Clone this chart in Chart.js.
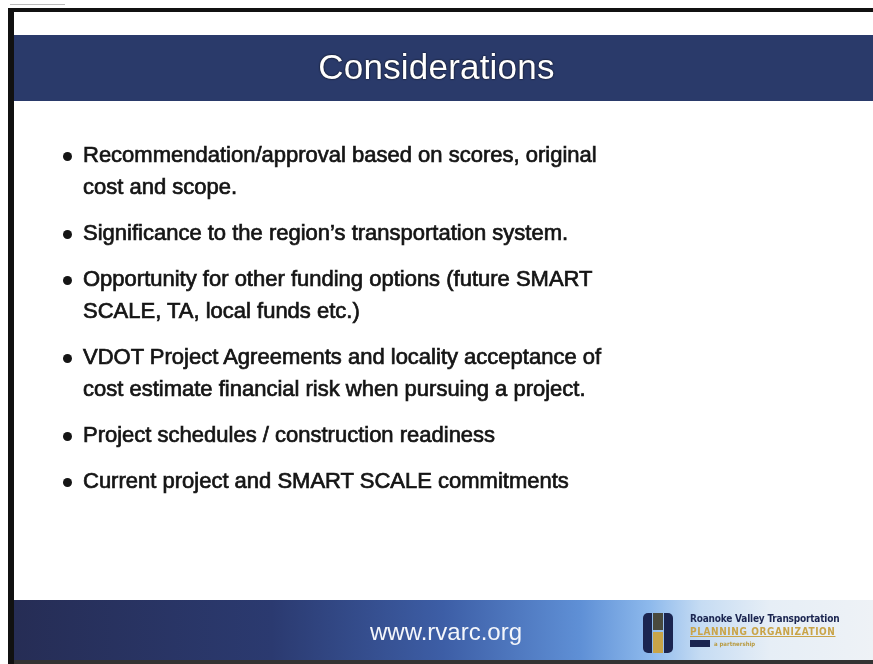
<!DOCTYPE html>
<html>
<head>
<meta charset="utf-8">
<script src="https://cdn.jsdelivr.net/npm/chart.js@4.4.1/dist/chart.umd.min.js"></script>
<style>
  html, body { margin: 0; padding: 0; background: #fff; }
  #wrap { position: relative; width: 873px; height: 664px; overflow: hidden; }
  #slide { position: absolute; left: 0; top: 0; }
  .title {
    position: absolute; left: 0; right: 0; top: 45px; text-align: center;
    font-family: "Liberation Sans", Arial, sans-serif; font-size: 35px; color: #fff;
    text-shadow: 0 0 2px #000; line-height: 44px; letter-spacing: 0.2px;
  }
  ul.bullets {
    position: absolute; left: 0; top: 139px; margin: 0; padding: 0; list-style: none;
    font-family: "Liberation Sans", Arial, sans-serif; font-size: 22px; line-height: 32px;
    color: #151515; -webkit-text-stroke: 0.7px #151515;
  }
  ul.bullets li { position: relative; padding-left: 83px; margin-bottom: 14px; white-space: nowrap; }
  ul.bullets li::before {
    content: ""; position: absolute; left: 63px; top: 13px; width: 9px; height: 9px;
    border-radius: 50%; background: #151515;
  }
  .url {
    position: absolute; left: 346px; width: 200px; top: 619px; text-align: center;
    font-family: "Liberation Sans", Arial, sans-serif; font-size: 24px; color: #f4f6fb;
    line-height: 26px;
  }
  .logo { position: absolute; left: 643px; top: 611px; width: 230px; height: 42px; }
  .logo .blk { position: absolute; background: #1b2550; }
  .logo .t1 {
    position: absolute; left: 47px; top: 2px; font-family: "DejaVu Sans Condensed", "Liberation Sans Narrow", sans-serif;
    font-weight: bold; font-size: 10px; color: #1b2550; white-space: nowrap; letter-spacing: -0.2px;
  }
  .logo .t2 {
    position: absolute; left: 47px; top: 15px; font-family: "DejaVu Sans Condensed", "Liberation Sans Narrow", sans-serif;
    font-weight: bold; font-size: 10px; color: #c9a448; white-space: nowrap; letter-spacing: 0.6px;
    text-decoration: underline;
  }
  .logo .t3 {
    position: absolute; left: 47px; top: 29px; font-family: "DejaVu Sans Condensed", sans-serif;
    font-weight: bold; font-size: 6px; color: #b89a40; white-space: nowrap;
  }
</style>
</head>
<body>
<div id="wrap">
  <canvas id="slide" width="873" height="664"></canvas>
  <div class="title" id="title"></div>
  <ul class="bullets" id="bullets"></ul>
  <div class="url" id="url"></div>
  <div class="logo">
    <div class="blk" style="left:0;top:2px;width:9px;height:40px;border-radius:5px 0 0 5px;"></div>
    <div class="blk" style="left:10px;top:2px;width:10px;height:17px;background:#4a4a3e;"></div>
    <div class="blk" style="left:10px;top:21px;width:10px;height:21px;background:#c9a448;"></div>
    <div class="blk" style="left:21px;top:2px;width:9px;height:40px;border-radius:0 5px 5px 0;"></div>
    <div class="t1">Roanoke Valley Transportation</div>
    <div class="t2">PLANNING ORGANIZATION</div>
    <div class="t3"><span style="background:#1b2550;color:#1b2550;">RVARC</span>&nbsp; a partnership</div>
  </div>
</div>
<script>
const slideTitle = 'Considerations';
const bulletLines = [
  ['Recommendation/approval based on scores, original', 'cost and scope.'],
  ['Significance to the region\u2019s transportation system.'],
  ['Opportunity for other funding options (future SMART', 'SCALE, TA, local funds etc.)'],
  ['VDOT Project Agreements and locality acceptance of', 'cost estimate financial risk when pursuing a project.'],
  ['Project schedules / construction readiness'],
  ['Current project and SMART SCALE commitments']
];
const footerUrl = 'www.rvarc.org';

document.getElementById('title').textContent = slideTitle;
document.getElementById('url').textContent = footerUrl;
const ul = document.getElementById('bullets');
bulletLines.forEach(lines => {
  const li = document.createElement('li');
  lines.forEach((l, i) => {
    if (i > 0) li.appendChild(document.createElement('br'));
    li.appendChild(document.createTextNode(l));
  });
  ul.appendChild(li);
});

// slide frame: border, header band and footer gradient
const slideFrame = {
  id: 'slideFrame',
  beforeDraw(chart) {
    const ctx = chart.ctx;
    const w = chart.width, h = chart.height;
    ctx.save();
    ctx.fillStyle = '#fff';
    ctx.fillRect(0, 0, w, h);

    // header band
    ctx.fillStyle = '#2a3a6a';
    ctx.fillRect(14, 35, w - 14, 66);

    // footer band
    const g = ctx.createLinearGradient(14, 0, w, 0);
    g.addColorStop(0, '#262d55');
    g.addColorStop(0.3, '#2b3a70');
    g.addColorStop(0.5, '#3d5ea6');
    g.addColorStop(0.66, '#5f90d6');
    g.addColorStop(0.74, '#8db9ec');
    g.addColorStop(0.8, '#c6dcf3');
    g.addColorStop(0.88, '#e6eef6');
    g.addColorStop(1, '#eef2f6');
    ctx.fillStyle = g;
    ctx.fillRect(14, 600, w - 14, 60);
    ctx.fillStyle = '#333';
    ctx.fillRect(14, 660, w - 14, 4);

    // black border
    ctx.fillStyle = '#111';
    ctx.fillRect(8, 8, 6, h - 8);
    ctx.fillRect(8, 8, w - 8, 4);
    ctx.fillStyle = '#bbb';
    ctx.fillRect(10, 4, 55, 1);
    ctx.restore();
  }
};

new Chart(document.getElementById('slide'), {
  type: 'scatter',
  data: { datasets: [] },
  options: {
    responsive: false,
    animation: false,
    events: [],
    scales: { x: { display: false }, y: { display: false } },
    plugins: { legend: { display: false }, tooltip: { enabled: false } }
  },
  plugins: [slideFrame]
});
</script>
</body>
</html>
